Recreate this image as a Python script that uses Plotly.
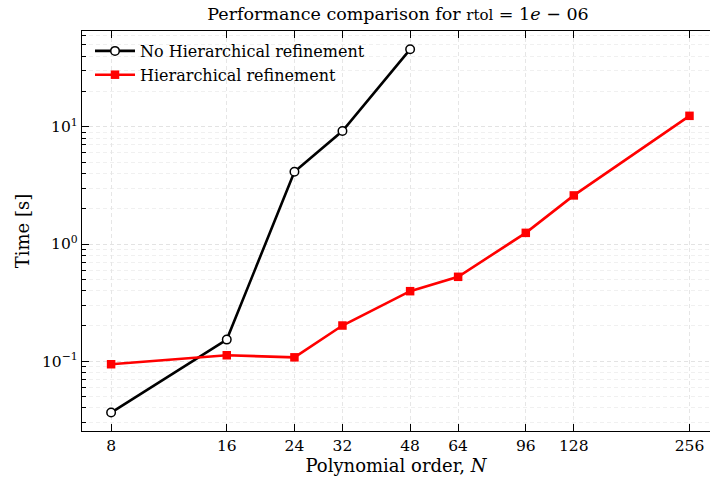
import plotly.graph_objects as go
import numpy as np

N_no = [8, 16, 24, 32, 48]
t_no = [0.0365, 0.153, 4.13, 9.19, 45.8]
N_h = [8, 16, 24, 32, 48, 64, 96, 128, 256]
t_h = [0.0943, 0.1125, 0.108, 0.2017, 0.396, 0.525, 1.245, 2.597, 12.4]
xticks = [8, 16, 24, 32, 48, 64, 96, 128, 256]
yticks = [0.1, 1, 10]
yticktext = ["10<sup>−1</sup>", "10<sup>0</sup>", "10<sup>1</sup>"]
yminor = [m * 10.0 ** e for e in (-2, -1, 0, 1) for m in range(2, 10)]

FONT = "DejaVu Serif"

fig = go.Figure()
fig.add_trace(go.Scatter(
    x=N_no, y=t_no, mode="lines+markers", name="No Hierarchical refinement",
    line=dict(color="black", width=2.6),
    marker=dict(symbol="circle", size=8.5, color="white", line=dict(color="black", width=1.5)),
))
fig.add_trace(go.Scatter(
    x=N_h, y=t_h, mode="lines+markers", name="Hierarchical refinement",
    line=dict(color="#ff0000", width=2.6),
    marker=dict(symbol="square", size=8.5, color="#ff0000", line=dict(color="#ff0000", width=0)),
))

L, T, B = 82, 31, 49
W, H = 710, 480
pw = W - L

fig.update_layout(
    width=W, height=H,
    margin=dict(l=L, r=0, t=T, b=B),
    paper_bgcolor="white", plot_bgcolor="white",
    font=dict(family=FONT, size=15, color="black"),
    title=dict(
        text="Performance comparison for <span style='font-size:15px'>rtol</span> = 1<i>e</i> − 06",
        xref="paper", x=(398 - L) / pw, xanchor="center",
        yref="container", y=1 - 14 / H, yanchor="middle",
        font=dict(family=FONT, size=17.5, color="black"),
    ),
    showlegend=True,
    legend=dict(
        x=8 / pw, y=1 - 3 / 400, xanchor="left", yanchor="top",
        bgcolor="rgba(255,255,255,0)", borderwidth=0,
        font=dict(family=FONT, size=16, color="black"),
        tracegroupgap=0, itemwidth=40,
    ),
)

fig.update_xaxes(
    type="log",
    range=[np.log10(6.72), np.log10(289.5)],
    tickmode="array", tickvals=xticks, ticktext=[str(v) for v in xticks],
    ticks="inside", ticklen=7, tickwidth=1.1, tickcolor="black",
    showline=True, linecolor="black", linewidth=1.4, mirror="allticks",
    showgrid=True, gridcolor="#e6e6e6", griddash="4px,3px", gridwidth=1,
    zeroline=False,
    tickfont=dict(family=FONT, size=15.5),
    title=dict(text="Polynomial order, <i>N</i>", font=dict(family=FONT, size=18), standoff=5),
)
fig.update_yaxes(
    type="log",
    range=[-1.595, 1.817],
    tickmode="array", tickvals=yticks, ticktext=yticktext,
    ticks="inside", ticklen=7, tickwidth=1.1, tickcolor="black",
    showline=True, linecolor="black", linewidth=1.4, mirror=False,
    showgrid=True, gridcolor="#e3e3e3", griddash="4px,3px", gridwidth=1,
    zeroline=False,
    tickfont=dict(family=FONT, size=15.5),
    minor=dict(tickmode="array", tickvals=yminor, ticks="inside", ticklen=4,
               tickcolor="black", tickwidth=1,
               showgrid=True, gridcolor="#f0f0f0", griddash="4px,3px", gridwidth=1),
    title=dict(text="Time [s]", font=dict(family=FONT, size=18), standoff=7),
)

fig.write_html("out.html")
